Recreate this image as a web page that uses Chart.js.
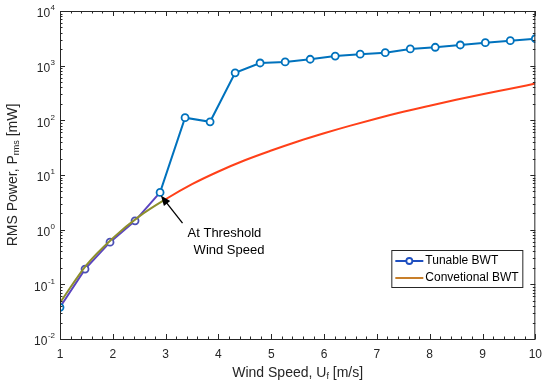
<!DOCTYPE html>
<html>
<head>
<meta charset="utf-8">
<script src="https://cdn.jsdelivr.net/npm/chart.js@4.4.1/dist/chart.umd.min.js"></script>
<style>
  body { margin: 0; background: #fff; }
  #wrap { width: 550px; height: 389px; }
</style>
</head>
<body>
<div id="wrap"><canvas id="myChart" width="550" height="389"></canvas></div>
<script>
// wind speed samples for the tunable beam (20 measured points)
const tunableSpeed = [1, 1.474, 1.947, 2.421, 2.895, 3.368, 3.842, 4.316, 4.789, 5.263,
                      5.737, 6.211, 6.684, 7.158, 7.632, 8.105, 8.579, 9.053, 9.526, 10];
const tunablePower = [0.038, 0.19, 0.59, 1.45, 4.8, 112, 94, 740, 1120, 1170,
                      1310, 1500, 1620, 1730, 2020, 2170, 2390, 2630, 2860, 3110];

// conventional beam curve
const convSpeed = [1, 1.5, 2, 2.5, 3, 3.5, 4, 4.5, 5, 5.5, 6, 6.5, 7, 7.5, 8, 8.5, 9, 9.5, 10];
const convPower = [0.046, 0.225, 0.70, 1.75, 3.6, 6.8, 11.6, 18.6, 28, 41, 58, 80, 108, 143, 185, 237, 300, 375, 470];

const seriesNames = ['Tunable BWT', 'Convetional BWT'];
const xTicks = [1, 2, 3, 4, 5, 6, 7, 8, 9, 10];
const yTicks = [0.01, 0.1, 1, 10, 100, 1000, 10000];
const yTickExp = ['-2', '-1', '0', '1', '2', '3', '4'];

const FONT = "'Liberation Sans', Arial, sans-serif";
const TXT = '#262626';
const BLUE = '#0072BD';
const RED = '#FF4019';

function zip(xs, ys) { return xs.map((x, i) => ({ x: x, y: ys[i] })); }

const matlabAxes = {
    id: 'matlabAxes',
    afterDraw(chart) {
        const c = chart.ctx;
        const a = chart.chartArea;
        const xs = chart.scales.x, ys = chart.scales.y;
        c.save();

        // box
        c.strokeStyle = TXT;
        c.lineWidth = 1;
        c.strokeRect(a.left + 0.5, a.top + 0.5, a.right - a.left - 1, a.bottom - a.top);

        // x ticks (inward, top and bottom)
        c.beginPath();
        for (let i = 0; i < xTicks.length; i++) {
            const v = xTicks[i];
            const px = Math.round(xs.getPixelForValue(v)) + 0.5;
            c.moveTo(px, a.bottom); c.lineTo(px, a.bottom - 5);
            c.moveTo(px, a.top); c.lineTo(px, a.top + 5);
            if (i < xTicks.length - 1) {
                for (let k = 1; k < 5; k++) {
                    const m = Math.round(xs.getPixelForValue(v + k * 0.2)) + 0.5;
                    c.moveTo(m, a.bottom); c.lineTo(m, a.bottom - 2.5);
                    c.moveTo(m, a.top); c.lineTo(m, a.top + 2.5);
                }
            }
        }
        // y ticks (log, left and right)
        for (let i = 0; i < yTicks.length; i++) {
            const v = yTicks[i];
            const py = Math.round(ys.getPixelForValue(v)) + 0.5;
            c.moveTo(a.left, py); c.lineTo(a.left + 5, py);
            c.moveTo(a.right, py); c.lineTo(a.right - 5, py);
            if (i < yTicks.length - 1) {
                for (let k = 2; k < 10; k++) {
                    const m = Math.round(ys.getPixelForValue(v * k)) + 0.5;
                    c.moveTo(a.left, m); c.lineTo(a.left + 2.5, m);
                    c.moveTo(a.right, m); c.lineTo(a.right - 2.5, m);
                }
            }
        }
        c.stroke();

        // y tick labels 10^n
        c.fillStyle = TXT;
        c.textBaseline = 'middle';
        yTicks.forEach((v, i) => {
            const py = ys.getPixelForValue(v);
            c.font = '8px ' + FONT;
            const ew = c.measureText(yTickExp[i]).width;
            c.textAlign = 'left';
            const ex = a.left - 5 - ew;
            c.fillText(yTickExp[i], ex, py - 3);
            c.font = '12px ' + FONT;
            c.textAlign = 'right';
            c.fillText('10', ex - 0.5, py + 3);
        });

        // axis titles with subscripts
        drawRich(c, [['Wind Speed, U', 14, 0], ['f', 9, 4], [' [m/s]', 14, 0]],
                 (a.left + a.right) / 2, 373, 0);
        drawRich(c, [['RMS Power, P', 14, 0], ['rms', 9, 4], [' [mW]', 14, 0]],
                 13, (a.top + a.bottom) / 2, -Math.PI / 2);

        // annotation arrow
        const tail = { x: xs.getPixelForValue(3.32), y: ys.getPixelForValue(1.32) };
        const head = { x: xs.getPixelForValue(2.91), y: ys.getPixelForValue(4.2) };
        const ang = Math.atan2(head.y - tail.y, head.x - tail.x);
        c.strokeStyle = '#000';
        c.fillStyle = '#000';
        c.lineWidth = 1.3;
        c.beginPath();
        c.moveTo(tail.x, tail.y);
        c.lineTo(head.x - 8 * Math.cos(ang), head.y - 8 * Math.sin(ang));
        c.stroke();
        c.beginPath();
        c.moveTo(head.x, head.y);
        c.lineTo(head.x - 10 * Math.cos(ang) + 4 * Math.sin(ang), head.y - 10 * Math.sin(ang) - 4 * Math.cos(ang));
        c.lineTo(head.x - 10 * Math.cos(ang) - 4 * Math.sin(ang), head.y - 10 * Math.sin(ang) + 4 * Math.cos(ang));
        c.closePath();
        c.fill();
        c.font = '13px ' + FONT;
        c.textAlign = 'left';
        c.textBaseline = 'middle';
        c.fillText('At Threshold', xs.getPixelForValue(3.415), ys.getPixelForValue(0.86));
        c.fillText('Wind Speed', xs.getPixelForValue(3.53), ys.getPixelForValue(0.41));

        // legend
        const lx = a.right - 144, ly = a.bottom - 89, lw = 131, lh = 37;
        c.fillStyle = '#fff';
        c.fillRect(lx, ly, lw, lh);
        c.strokeStyle = TXT;
        c.lineWidth = 1;
        c.strokeRect(lx + 0.5, ly + 0.5, lw, lh);
        seriesNames.forEach((name, i) => {
            const yy = ly + 11 + i * 17;
            c.strokeStyle = i === 0 ? '#1F4FC0' : '#C87F2A';
            c.lineWidth = 2;
            c.beginPath();
            c.moveTo(lx + 4, yy); c.lineTo(lx + 32, yy);
            c.stroke();
            if (i === 0) {
                c.fillStyle = '#fff';
                c.lineWidth = 1.8;
                c.beginPath();
                c.arc(lx + 18, yy, 3, 0, Math.PI * 2);
                c.fill(); c.stroke();
            }
            c.fillStyle = '#000';
            c.font = '12px ' + FONT;
            c.fillText(name, lx + 34, yy);
        });
        c.restore();
    }
};

function drawRich(c, parts, cx, cy, rot) {
    c.save();
    c.translate(cx, cy);
    c.rotate(rot);
    c.fillStyle = TXT;
    c.textBaseline = 'middle';
    c.textAlign = 'left';
    let total = 0;
    parts.forEach(p => { c.font = p[1] + 'px ' + FONT; total += c.measureText(p[0]).width; });
    let x = -total / 2;
    parts.forEach(p => {
        c.font = p[1] + 'px ' + FONT;
        c.fillText(p[0], x, p[2]);
        x += c.measureText(p[0]).width;
    });
    c.restore();
}

const ctx = document.getElementById('myChart').getContext('2d');
new Chart(ctx, {
    type: 'line',
    data: {
        datasets: [{
            label: seriesNames[1],
            data: zip(convSpeed, convPower),
            borderColor: RED,
            borderWidth: 2,
            pointRadius: 0,
            cubicInterpolationMode: 'monotone',
            segment: {
                borderColor: s => s.p1.parsed.x <= 3 ? '#8E8F2C' : RED
            },
            order: 0
        }, {
            label: seriesNames[0],
            data: zip(tunableSpeed, tunablePower),
            borderColor: BLUE,
            borderWidth: 2,
            pointRadius: 3.5,
            pointBorderWidth: 1.8,
            pointBackgroundColor: '#fff',
            pointBorderColor: s => (s.dataIndex >= 1 && s.dataIndex <= 3) ? '#4B4FB5' : BLUE,
            segment: {
                borderColor: s => s.p1.parsed.x < 2.9 ? '#5B45C0' : BLUE
            },
            order: 1
        }]
    },
    options: {
        responsive: false,
        animation: false,
        layout: { padding: { top: 11, right: 13, left: 0, bottom: 0 } },
        plugins: { legend: { display: false }, tooltip: { enabled: false } },
        scales: {
            x: {
                type: 'linear',
                min: 1, max: 10,
                afterBuildTicks: s => { s.ticks = xTicks.map(v => ({ value: v })); },
                ticks: { font: { family: FONT, size: 12 }, color: TXT, padding: 8, maxRotation: 0 },
                grid: { display: false, drawTicks: false },
                border: { display: false },
                afterFit: s => { s.height = 50; }
            },
            y: {
                type: 'logarithmic',
                min: 0.01, max: 10000,
                ticks: { display: false },
                grid: { display: false, drawTicks: false },
                border: { display: false },
                afterFit: s => { s.width = 60; }
            }
        }
    },
    plugins: [matlabAxes]
});
</script>
</body>
</html>
